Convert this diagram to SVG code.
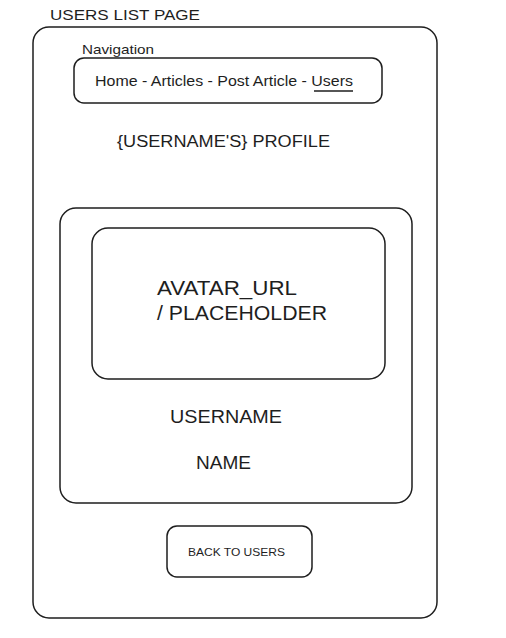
<svg xmlns="http://www.w3.org/2000/svg" width="506" height="638" viewBox="0 0 506 638">
<style>
.box{fill:none;stroke:#1e1e1e;stroke-width:1.5}
.t{font-family:"Liberation Sans",Arial,sans-serif;fill:#1e1e1e}
</style>
<rect width="506" height="638" fill="#ffffff"/>
<g id="title"><text class="t" x="50" y="20" font-size="15" textLength="150" lengthAdjust="spacingAndGlyphs">USERS LIST PAGE</text></g>
<g id="frame"><rect class="box" x="33" y="27" width="404" height="591" rx="16"/></g>
<g id="nav-label"><text class="t" x="82" y="54" font-size="13" textLength="72" lengthAdjust="spacingAndGlyphs">Navigation</text></g>
<g id="nav">
<rect class="box" x="74" y="58" width="308" height="45" rx="10"/>
<text class="t" x="95" y="86" font-size="14" textLength="258" lengthAdjust="spacingAndGlyphs">Home - Articles - Post Article - Users</text>
<line x1="314" y1="91" x2="353" y2="91" stroke="#1e1e1e" stroke-width="1.5"/>
</g>
<g id="heading"><text class="t" x="117" y="147" font-size="16" textLength="213" lengthAdjust="spacingAndGlyphs">{USERNAME'S} PROFILE</text></g>
<g id="card">
<rect class="box" x="60" y="208" width="352" height="295" rx="16"/>
</g>
<g id="avatar">
<rect class="box" x="92" y="228" width="293" height="151" rx="16"/>
<text class="t" x="157" y="295" font-size="20" textLength="140" lengthAdjust="spacingAndGlyphs">AVATAR_URL</text>
<text class="t" x="157" y="320" font-size="20" textLength="170" lengthAdjust="spacingAndGlyphs">/ PLACEHOLDER</text>
</g>
<g id="username"><text class="t" x="170" y="423" font-size="19" textLength="112" lengthAdjust="spacingAndGlyphs">USERNAME</text></g>
<g id="name"><text class="t" x="196" y="469" font-size="19" textLength="55" lengthAdjust="spacingAndGlyphs">NAME</text></g>
<g id="back-button">
<rect class="box" x="167" y="526" width="145" height="51" rx="10"/>
<text class="t" x="188" y="556" font-size="11" textLength="97" lengthAdjust="spacingAndGlyphs">BACK TO USERS</text>
</g>
<g id="connectors"></g>
</svg>
